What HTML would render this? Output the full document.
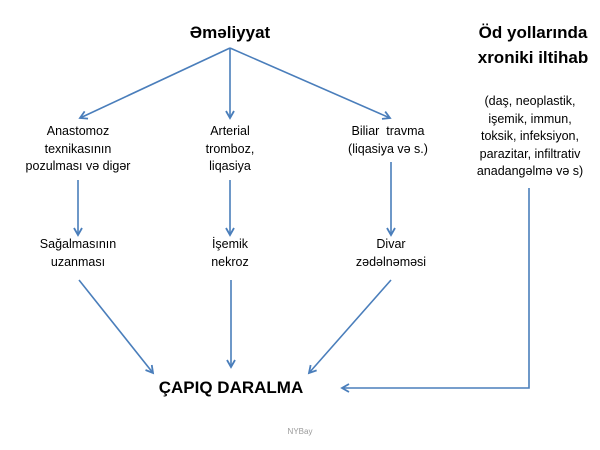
<!DOCTYPE html>
<html><head><meta charset="utf-8"><style>
html,body{margin:0;padding:0;background:#fff;}
body{width:600px;height:450px;position:relative;overflow:hidden;font-family:"Liberation Sans",sans-serif;color:#000;}
.t{position:absolute;text-align:center;font-size:12.5px;line-height:17.5px;transform:translateX(-50%);white-space:nowrap;}
.b{font-weight:bold;font-size:17px;line-height:25px;}
svg{position:absolute;left:0;top:0;}
</style></head><body>
<svg width="600" height="450">
<defs><marker id="a" markerWidth="10" markerHeight="10" refX="8" refY="5" orient="auto" markerUnits="userSpaceOnUse"><path d="M1,1 L8,5 L1,9" fill="none" stroke="#4a7ebb" stroke-width="1.8"/></marker></defs>
<g stroke="#4a7ebb" stroke-width="1.6" fill="none" marker-end="url(#a)">
<line x1="230" y1="48" x2="80" y2="118"/>
<line x1="230" y1="48" x2="230" y2="118"/>
<line x1="230" y1="48" x2="390" y2="118"/>
<line x1="78" y1="180" x2="78" y2="235"/>
<line x1="230" y1="180" x2="230" y2="235"/>
<line x1="391" y1="162" x2="391" y2="235"/>
<line x1="79" y1="280" x2="153" y2="373"/>
<line x1="231" y1="280" x2="231" y2="367"/>
<line x1="391" y1="280" x2="309" y2="373"/>
<polyline points="529,188 529,388 342,388"/>
</g>
</svg>
<div class="t b" style="left:230px;top:20px">Əməliyyat</div>
<div class="t b" style="left:533px;top:20px">Öd yollarında<br>xroniki iltihab</div>
<div class="t" style="left:530px;top:93px">(daş, neoplastik,<br>işemik, immun,<br>toksik, infeksiyon,<br>parazitar, infiltrativ<br>anadangəlmə və s)</div>
<div class="t" style="left:78px;top:123px">Anastomoz<br>texnikasının<br>pozulması və digər</div>
<div class="t" style="left:230px;top:123px">Arterial<br>tromboz,<br>liqasiya</div>
<div class="t" style="left:388px;top:123px">Biliar&nbsp; travma<br>(liqasiya və s.)</div>
<div class="t" style="left:78px;top:236px">Sağalmasının<br>uzanması</div>
<div class="t" style="left:230px;top:236px">İşemik<br>nekroz</div>
<div class="t" style="left:391px;top:236px">Divar<br>zədəlnəməsi</div>
<div class="t b" style="left:231px;top:375px;font-size:17px">ÇAPIQ DARALMA</div>
<div class="t" style="left:300px;top:423px;font-size:8px;color:#999">NYBay</div>
</body></html>
